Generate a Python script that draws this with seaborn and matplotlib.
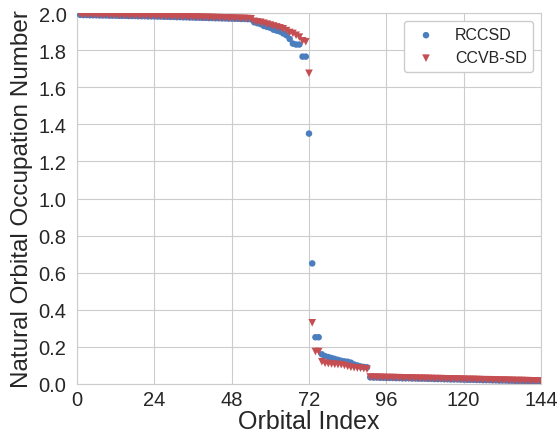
import numpy as np
import pandas as pd
import seaborn as sns
import matplotlib
matplotlib.use('Agg')
import matplotlib.pyplot as plt

# Natural orbital occupation numbers, sorted, orbital index 1..144
rccsd = [
    1.990, 1.989, 1.989, 1.988, 1.988, 1.988, 1.987, 1.987, 1.987, 1.986, 1.986, 1.986,
    1.985, 1.985, 1.985, 1.984, 1.984, 1.984, 1.983, 1.983, 1.983, 1.982, 1.982, 1.982,
    1.981, 1.981, 1.980, 1.980, 1.979, 1.979, 1.978, 1.978, 1.977, 1.977, 1.976, 1.976,
    1.975, 1.975, 1.974, 1.974, 1.973, 1.973, 1.972, 1.972, 1.971, 1.971, 1.970, 1.970,
    1.969, 1.969, 1.968, 1.968, 1.967, 1.966, 1.950, 1.945, 1.940, 1.930, 1.925, 1.920,
    1.910, 1.905, 1.900, 1.890, 1.880, 1.860, 1.835, 1.830, 1.830, 1.765, 1.765, 1.350,
    0.650, 0.252, 0.252, 0.160, 0.150, 0.145, 0.140, 0.135, 0.130, 0.125, 0.122, 0.120,
    0.115, 0.105, 0.100, 0.095, 0.092, 0.090, 0.036, 0.035, 0.035, 0.034, 0.034, 0.033,
    0.033, 0.033, 0.032, 0.032, 0.031, 0.031, 0.031, 0.030, 0.030, 0.029, 0.029, 0.029,
    0.028, 0.028, 0.027, 0.027, 0.027, 0.026, 0.026, 0.025, 0.025, 0.025, 0.024, 0.024,
    0.023, 0.023, 0.023, 0.022, 0.022, 0.021, 0.021, 0.021, 0.020, 0.020, 0.019, 0.019,
    0.019, 0.018, 0.018, 0.017, 0.017, 0.017, 0.016, 0.016, 0.015, 0.015, 0.014, 0.014,
]
ccvb_sd = [
    1.993, 1.992, 1.992, 1.991, 1.991, 1.991, 1.990, 1.990, 1.990, 1.989, 1.989, 1.989,
    1.988, 1.988, 1.988, 1.987, 1.987, 1.987, 1.986, 1.986, 1.986, 1.985, 1.985, 1.985,
    1.984, 1.984, 1.983, 1.983, 1.982, 1.982, 1.981, 1.981, 1.980, 1.980, 1.979, 1.979,
    1.978, 1.978, 1.977, 1.977, 1.976, 1.976, 1.975, 1.975, 1.974, 1.974, 1.973, 1.973,
    1.972, 1.972, 1.971, 1.971, 1.970, 1.969, 1.955, 1.952, 1.950, 1.945, 1.940, 1.935,
    1.930, 1.925, 1.920, 1.915, 1.905, 1.895, 1.890, 1.880, 1.870, 1.850, 1.845, 1.675,
    0.330, 0.175, 0.175, 0.120, 0.112, 0.110, 0.108, 0.106, 0.105, 0.104, 0.100, 0.095,
    0.090, 0.088, 0.086, 0.085, 0.083, 0.080, 0.038, 0.037, 0.037, 0.036, 0.036, 0.035,
    0.035, 0.035, 0.034, 0.034, 0.033, 0.033, 0.033, 0.032, 0.032, 0.031, 0.031, 0.031,
    0.030, 0.030, 0.029, 0.029, 0.029, 0.028, 0.028, 0.027, 0.027, 0.027, 0.026, 0.026,
    0.025, 0.025, 0.025, 0.024, 0.024, 0.023, 0.023, 0.023, 0.022, 0.022, 0.021, 0.021,
    0.021, 0.020, 0.020, 0.019, 0.019, 0.019, 0.018, 0.018, 0.017, 0.017, 0.016, 0.016,
]
orbital_index = list(range(1, len(rccsd) + 1))

x_ticks = [0, 24, 48, 72, 96, 120, 144]
y_ticks = [0.0, 0.2, 0.4, 0.6, 0.8, 1.0, 1.2, 1.4, 1.6, 1.8, 2.0]

sns.set_style('whitegrid')
plt.rcParams['font.family'] = ['Liberation Sans', 'DejaVu Sans']

df = pd.DataFrame({'index': orbital_index, 'RCCSD': rccsd, 'CCVB-SD': ccvb_sd})

fig = plt.figure(figsize=(5.6, 4.39), dpi=100)
ax = fig.add_axes([77 / 560, 54 / 439, 464 / 560, 371 / 439])

sns.scatterplot(data=df, x='index', y='RCCSD', ax=ax, marker='o', s=22,
                color='#4a7ebf', edgecolor='none', label='RCCSD', zorder=3)
sns.scatterplot(data=df, x='index', y='CCVB-SD', ax=ax, marker='v', s=30,
                color='#c44e52', edgecolor='none', label='CCVB-SD', zorder=4)

ax.set_xlim(0, 144)
ax.set_ylim(0, 2.0)
ax.set_xticks(x_ticks)
ax.set_yticks(y_ticks)
ax.set_yticklabels([f'{v:.1f}' for v in y_ticks])
ax.tick_params(labelsize=14.5, colors='#262626')
ax.tick_params(axis='x', pad=1)
ax.tick_params(axis='y', pad=4)
ax.set_xlabel('Orbital Index', fontsize=18, color='#262626', labelpad=0)
ax.set_ylabel('Natural Orbital Occupation Number', fontsize=17.5, color='#262626', labelpad=4)

leg = ax.legend(loc='upper right', fontsize=11.5, frameon=True, framealpha=1)
leg.get_frame().set_edgecolor('.8')

fig.savefig('out.png', dpi=100)
plt.close(fig)
